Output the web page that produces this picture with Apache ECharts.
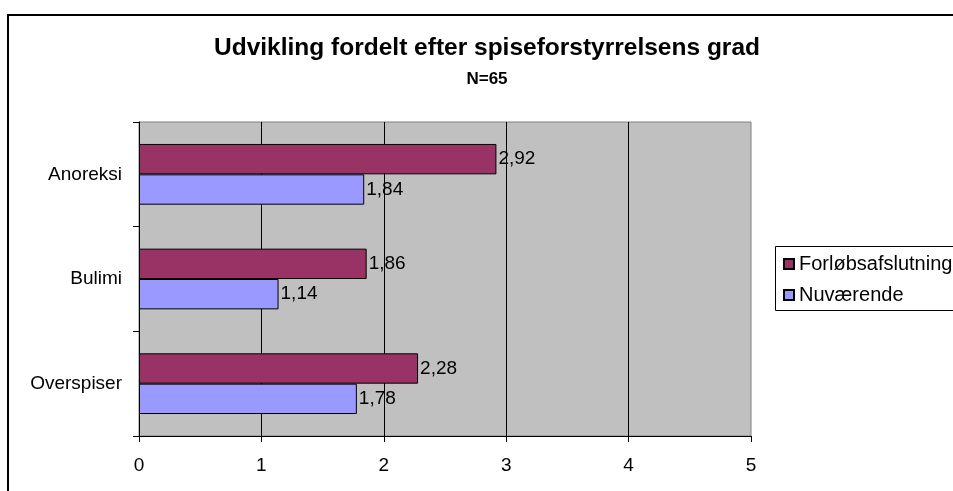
<!DOCTYPE html>
<html>
<head>
<meta charset="utf-8">
<script src="https://cdn.jsdelivr.net/npm/echarts@6/dist/echarts.min.js"></script>
<style>
  html, body { margin: 0; padding: 0; background: #fff; }
  #chart { width: 953px; height: 491px; }
</style>
</head>
<body>
<div id="chart"></div>
<script>
// Eating-disorder groups and mean development scores
const categories = ['Anoreksi', 'Bulimi', 'Overspiser'];
const seriesNames = ['Forløbsafslutning', 'Nuværende'];
const forloebsafslutning = [2.92, 1.86, 2.28];
const nuvaerende = [1.84, 1.14, 1.78];
const xTicks = [0, 1, 2, 3, 4, 5];

const FONT = '"Liberation Sans", Arial, sans-serif';
const fmt = (v) => String(v.toFixed(2)).replace('.', ',');

const chart = echarts.init(document.getElementById('chart'), null, { renderer: 'canvas' });

const barLabel = {
  show: true,
  position: 'right',
  distance: 2,
  color: '#000',
  fontFamily: FONT,
  fontSize: 19,
  formatter: (p) => fmt(p.value)
};

chart.setOption({
  backgroundColor: '#fff',
  animation: false,
  title: {
    text: 'Udvikling fordelt efter spiseforstyrrelsens grad',
    subtext: 'N=65',
    left: 487,
    top: 36,
    textAlign: 'center',
    padding: 0,
    itemGap: 10,
    textStyle: { fontFamily: FONT, fontSize: 24.5, fontWeight: 'bold', color: '#000' },
    subtextStyle: { fontFamily: FONT, fontSize: 17, fontWeight: 'bold', color: '#000' }
  },
  graphic: [
    {
      type: 'rect',
      z: -10,
      shape: { x: 8, y: 15, width: 1000, height: 1000 },
      style: { fill: 'none', stroke: '#000', lineWidth: 2 }
    },
    {
      type: 'rect',
      z: 100,
      shape: { x: 775.5, y: 246.5, width: 300, height: 64 },
      style: { fill: 'none', stroke: '#000', lineWidth: 1 }
    }
  ],
  legend: {
    orient: 'vertical',
    left: 783,
    top: 254,
    padding: 0,
    itemWidth: 10,
    itemHeight: 10,
    itemGap: 11,
    icon: 'rect',
    textStyle: { fontFamily: FONT, fontSize: 20, color: '#000', lineHeight: 19 },
    data: seriesNames
  },
  grid: {
    left: 139,
    top: 122,
    width: 612,
    height: 314,
    show: true,
    backgroundColor: '#C0C0C0',
    borderColor: '#808080',
    borderWidth: 1,
    containLabel: false
  },
  xAxis: {
    type: 'value',
    min: xTicks[0],
    max: xTicks[xTicks.length - 1],
    interval: 1,
    axisLine: { show: true, lineStyle: { color: '#000', width: 1 } },
    axisTick: { show: true, length: 6, lineStyle: { color: '#000' } },
    axisLabel: { margin: 20, color: '#000', fontFamily: FONT, fontSize: 19 },
    splitLine: { show: true, showMinLine: false, showMaxLine: false, lineStyle: { color: '#000', width: 1 } }
  },
  yAxis: {
    type: 'category',
    inverse: true,
    data: categories,
    axisLine: { show: true, lineStyle: { color: '#000', width: 1 } },
    axisTick: { show: true, length: 6, alignWithLabel: false, lineStyle: { color: '#000' } },
    axisLabel: { margin: 17, color: '#000', fontFamily: FONT, fontSize: 19 },
    splitLine: { show: false }
  },
  series: [
    {
      name: seriesNames[0],
      type: 'bar',
      data: forloebsafslutning,
      barGap: '0%',
      barCategoryGap: '42%',
      itemStyle: { color: '#993366', borderColor: '#000', borderWidth: 1 },
      label: barLabel
    },
    {
      name: seriesNames[1],
      type: 'bar',
      data: nuvaerende,
      barGap: '0%',
      barCategoryGap: '42%',
      itemStyle: { color: '#9999FF', borderColor: '#000', borderWidth: 1 },
      label: barLabel
    }
  ]
});
</script>
</body>
</html>
